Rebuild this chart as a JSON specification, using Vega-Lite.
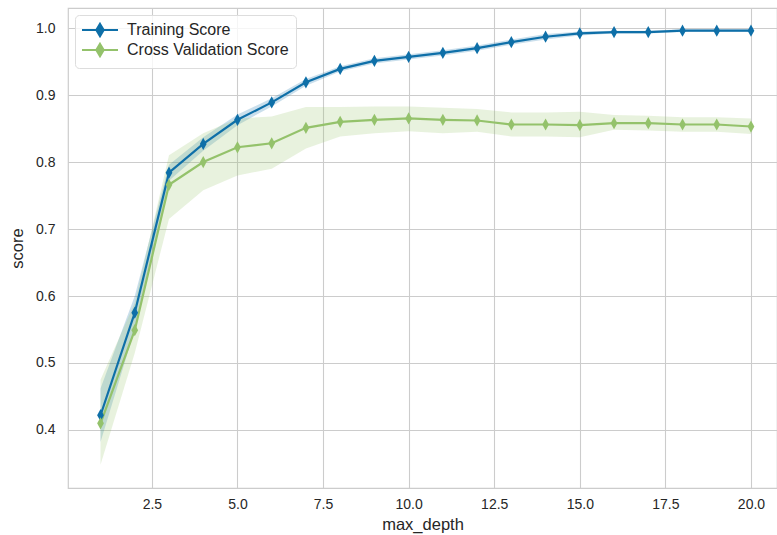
{
  "$schema": "https://vega.github.io/schema/vega-lite/v6.json",
  "width": 709,
  "height": 480,
  "autosize": {"type": "none"},
  "padding": {"left": 68, "top": 8, "right": 0, "bottom": 47},
  "background": "white",
  "config": {
    "font": "Liberation Sans",
    "view": {"stroke": "#cccccc", "strokeWidth": 1.2},
    "axis": {
      "domain": false,
      "ticks": false,
      "grid": true,
      "gridColor": "#cccccc",
      "gridWidth": 1.1,
      "labelColor": "#262626",
      "titleColor": "#262626",
      "labelFont": "Liberation Sans",
      "titleFont": "Liberation Sans",
      "labelFontSize": 14,
      "titleFontSize": 16.5,
      "titleFontWeight": "normal"
    }
  },
  "data": {
    "values": [
      {"max_depth": 1, "series": "Training Score", "score": 0.422, "lower": 0.382, "upper": 0.462},
      {"max_depth": 2, "series": "Training Score", "score": 0.575, "lower": 0.550, "upper": 0.600},
      {"max_depth": 3, "series": "Training Score", "score": 0.784, "lower": 0.772, "upper": 0.796},
      {"max_depth": 4, "series": "Training Score", "score": 0.827, "lower": 0.817, "upper": 0.837},
      {"max_depth": 5, "series": "Training Score", "score": 0.863, "lower": 0.855, "upper": 0.871},
      {"max_depth": 6, "series": "Training Score", "score": 0.889, "lower": 0.883, "upper": 0.895},
      {"max_depth": 7, "series": "Training Score", "score": 0.919, "lower": 0.914, "upper": 0.924},
      {"max_depth": 8, "series": "Training Score", "score": 0.939, "lower": 0.935, "upper": 0.943},
      {"max_depth": 9, "series": "Training Score", "score": 0.951, "lower": 0.947, "upper": 0.955},
      {"max_depth": 10, "series": "Training Score", "score": 0.957, "lower": 0.953, "upper": 0.961},
      {"max_depth": 11, "series": "Training Score", "score": 0.963, "lower": 0.959, "upper": 0.967},
      {"max_depth": 12, "series": "Training Score", "score": 0.970, "lower": 0.966, "upper": 0.974},
      {"max_depth": 13, "series": "Training Score", "score": 0.979, "lower": 0.975, "upper": 0.983},
      {"max_depth": 14, "series": "Training Score", "score": 0.987, "lower": 0.983, "upper": 0.991},
      {"max_depth": 15, "series": "Training Score", "score": 0.992, "lower": 0.989, "upper": 0.995},
      {"max_depth": 16, "series": "Training Score", "score": 0.994, "lower": 0.992, "upper": 0.996},
      {"max_depth": 17, "series": "Training Score", "score": 0.994, "lower": 0.992, "upper": 0.996},
      {"max_depth": 18, "series": "Training Score", "score": 0.996, "lower": 0.994, "upper": 0.998},
      {"max_depth": 19, "series": "Training Score", "score": 0.996, "lower": 0.994, "upper": 0.998},
      {"max_depth": 20, "series": "Training Score", "score": 0.996, "lower": 0.994, "upper": 0.998},
      {"max_depth": 1, "series": "Cross Validation Score", "score": 0.410, "lower": 0.348, "upper": 0.475},
      {"max_depth": 2, "series": "Cross Validation Score", "score": 0.549, "lower": 0.515, "upper": 0.590},
      {"max_depth": 3, "series": "Cross Validation Score", "score": 0.766, "lower": 0.715, "upper": 0.810},
      {"max_depth": 4, "series": "Cross Validation Score", "score": 0.800, "lower": 0.758, "upper": 0.843},
      {"max_depth": 5, "series": "Cross Validation Score", "score": 0.822, "lower": 0.780, "upper": 0.865},
      {"max_depth": 6, "series": "Cross Validation Score", "score": 0.828, "lower": 0.790, "upper": 0.868},
      {"max_depth": 7, "series": "Cross Validation Score", "score": 0.851, "lower": 0.820, "upper": 0.882},
      {"max_depth": 8, "series": "Cross Validation Score", "score": 0.860, "lower": 0.838, "upper": 0.882},
      {"max_depth": 9, "series": "Cross Validation Score", "score": 0.863, "lower": 0.843, "upper": 0.883},
      {"max_depth": 10, "series": "Cross Validation Score", "score": 0.865, "lower": 0.846, "upper": 0.883},
      {"max_depth": 11, "series": "Cross Validation Score", "score": 0.863, "lower": 0.843, "upper": 0.881},
      {"max_depth": 12, "series": "Cross Validation Score", "score": 0.862, "lower": 0.845, "upper": 0.879},
      {"max_depth": 13, "series": "Cross Validation Score", "score": 0.856, "lower": 0.838, "upper": 0.874},
      {"max_depth": 14, "series": "Cross Validation Score", "score": 0.856, "lower": 0.838, "upper": 0.874},
      {"max_depth": 15, "series": "Cross Validation Score", "score": 0.855, "lower": 0.837, "upper": 0.875},
      {"max_depth": 16, "series": "Cross Validation Score", "score": 0.858, "lower": 0.848, "upper": 0.870},
      {"max_depth": 17, "series": "Cross Validation Score", "score": 0.858, "lower": 0.847, "upper": 0.869},
      {"max_depth": 18, "series": "Cross Validation Score", "score": 0.856, "lower": 0.845, "upper": 0.867},
      {"max_depth": 19, "series": "Cross Validation Score", "score": 0.856, "lower": 0.845, "upper": 0.867},
      {"max_depth": 20, "series": "Cross Validation Score", "score": 0.853, "lower": 0.842, "upper": 0.865}
    ]
  },
  "layer": [
    {
      "mark": {"type": "area", "opacity": 0.22},
      "encoding": {
        "x": {
          "field": "max_depth",
          "type": "quantitative",
          "scale": {"domain": [0.05, 20.76], "nice": false, "zero": false},
          "axis": {"values": [2.5, 5, 7.5, 10, 12.5, 15, 17.5, 20], "format": ".1f", "title": "max_depth", "labelPadding": 9, "titlePadding": 5}
        },
        "y": {"field": "lower", "type": "quantitative", "stack": null, "scale": {"domain": [0.3134, 1.0299], "nice": false, "zero": false}},
        "y2": {"field": "upper"},
        "color": {"field": "series", "type": "nominal"}
      }
    },
    {
      "mark": {
        "type": "line",
        "strokeWidth": 2.2,
        "point": {"shape": "M0,-1L0.55,0L0,1L-0.55,0Z", "size": 150, "filled": true, "opacity": 1}
      },
      "encoding": {
        "x": {"field": "max_depth", "type": "quantitative"},
        "y": {
          "field": "score",
          "type": "quantitative",
          "axis": {"values": [0.4, 0.5, 0.6, 0.7, 0.8, 0.9, 1.0], "format": ".1f", "title": "score", "labelPadding": 13, "titlePadding": 10}
        },
        "color": {
          "field": "series",
          "type": "nominal",
          "scale": {"domain": ["Training Score", "Cross Validation Score"], "range": ["#0e6fa8", "#94c26b"]},
          "legend": {
            "title": null,
            "orient": "none",
            "legendX": 7,
            "legendY": 7,
            "padding": 7,
            "fillColor": "rgba(255,255,255,0.8)",
            "strokeColor": "#dddddd",
            "cornerRadius": 4,
            "labelFontSize": 16,
            "labelLimit": 400,
            "labelColor": "#262626",
            "labelFont": "Liberation Sans",
            "labelOffset": 19,
            "rowPadding": -2,
            "symbolType": "M-3,0L3,0M0,-1L0.6,0L0,1L-0.6,0Z",
            "symbolSize": 144,
            "symbolOffset": 10,
            "symbolStrokeWidth": 2.2,
            "symbolOpacity": 1,
            "encode": {
              "symbols": {
                "update": {
                  "fill": {"scale": "color", "field": "value"},
                  "stroke": {"scale": "color", "field": "value"},
                  "strokeWidth": {"value": 2.2},
                  "opacity": {"value": 1}
                }
              }
            }
          }
        }
      }
    }
  ]
}
